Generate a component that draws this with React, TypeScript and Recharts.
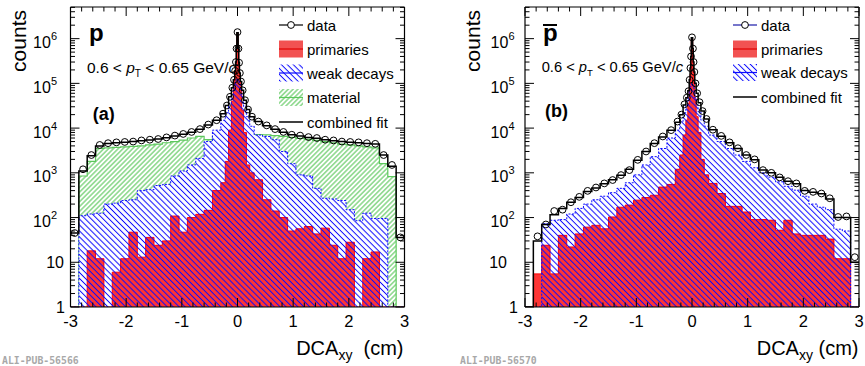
import React from 'react';
import { ComposedChart, Area, Line, XAxis, YAxis } from 'recharts';

const FONT = '"Liberation Sans", Arial, Helvetica, sans-serif';

type Num = number | null;

// DCAxy bin edges (cm) - 0.15 cm bins outside, finer bins around the peak
const BIN_EDGES = [
  -3, -2.85, -2.7, -2.55, -2.4, -2.25, -2.1, -1.95, -1.8, -1.65, -1.5, -1.35, -1.2, -1.05, -0.9, -0.75, -0.6, -0.45, -0.3,
  -0.22, -0.16, -0.11, -0.075, -0.05, -0.035, -0.022, -0.012,
  0.012, 0.022, 0.035, 0.05, 0.075, 0.11, 0.16, 0.22, 0.3,
  0.45, 0.6, 0.75, 0.9, 1.05, 1.2, 1.35, 1.5, 1.65, 1.8, 1.95, 2.1, 2.25, 2.4, 2.55, 2.7, 2.85, 3,
];

// panel (a) protons - counts per bin
const A_DATA: Num[] = [
  45, 1200, 2500, 4200, 4600, 4800, 4900, 5000, 5300,
  5500, 5700, 6200, 6800, 7400, 8200, 9500, 12000, 15000,
  21000, 32000, 50000, 80000, 120000, 190000, 300000, 600000, 1400000,
  600000, 290000, 170000, 110000, 70000, 42000, 26000, 18000, 14000,
  11500, 9500, 8200, 7100, 6800, 6300, 6000, 5500, 5300,
  5000, 4900, 4800, 4600, 4450, 2500, 1500, 36,
];
const A_FIT: Num[] = [
  45, 1100, 2400, 4000, 4500, 4700, 4800, 5000, 5200,
  5400, 5700, 6100, 6700, 7300, 8100, 9400, 11800, 15000,
  21000, 32000, 50000, 80000, 120000, 190000, 300000, 600000, 1350000,
  600000, 290000, 170000, 110000, 70000, 42000, 26000, 18000, 14000,
  11300, 9400, 8100, 7100, 6700, 6200, 5900, 5500, 5200,
  5000, 4800, 4700, 4500, 4400, 2500, 1400, 36,
];
const A_MATERIAL: Num[] = [
  1, 850, 1800, 3500, 3600, 3700, 3800, 3900, 4000,
  4200, 4400, 4700, 5000, 5400, 6000, 6500, 5500, 6500,
  9000, 8000, 9000, 14000, 22000, 30000, 38000, 42000, 45000,
  42000, 38000, 30000, 22000, 14000, 9000, 7500, 7000, 7200,
  7100, 6800, 6500, 6200, 5900, 5600, 5300, 5000, 4700,
  4400, 4200, 4000, 3800, 3600, 1600, 820, 1,
];
const A_WEAK: Num[] = [
  1, 110, 120, 125, 200, 210, 240, 250, 400,
  420, 520, 550, 850, 1100, 1500, 2100, 5000, 9000,
  15000, 22000, 35000, 55000, 80000, 100000, 115000, 120000, 125000,
  120000, 110000, 95000, 75000, 50000, 30000, 18000, 11000, 7000,
  6500, 5500, 3000, 1600, 900, 850, 450, 270, 260,
  240, 150, 85, 125, 95, 95, 1, 1,
];
const A_PRIM: Num[] = [
  1, 1, 18, 12, 1, 6, 12, 47, 13,
  36, 24, 30, 108, 47, 100, 118, 145, 400,
  600, 1800, 9000, 40000, 90000, 160000, 280000, 600000, 1300000,
  500000, 250000, 140000, 70000, 25000, 8000, 1500, 1000, 700,
  250, 140, 100, 50, 56, 63, 43, 58, 24,
  12, 28, 1, 12, 17, 1, 1, 1,
];

// panel (b) antiprotons - counts per bin
const B_DATA: Num[] = [
  null, 38, 70, 140, 150, 220, 290, 395, 470,
  580, 690, 890, 1150, 1950, 3000, 4600, 6500, 9000,
  14000, 20000, 34000, 48000, 67000, 120000, 220000, 400000, 1070000,
  600000, 300000, 180000, 100000, 60000, 38000, 24000, 16000, 9200,
  6700, 4800, 3550, 2500, 2000, 1150, 1000, 790, 650,
  580, 395, 375, 345, 270, 103, 106, 13,
];
const B_FIT: Num[] = [
  1, 30, 70, 115, 160, 220, 280, 380, 460,
  570, 700, 880, 1200, 1900, 3000, 4500, 6300, 9000,
  13500, 20000, 33000, 48000, 68000, 120000, 220000, 400000, 1050000,
  600000, 300000, 180000, 100000, 60000, 37000, 24000, 16000, 9200,
  6600, 4700, 3500, 2500, 1950, 1150, 1000, 800, 650,
  570, 400, 370, 340, 260, 100, 100, 10,
];
const B_WEAK: Num[] = [
  1, 1, 73, 87, 90, 120, 160, 200, 250,
  300, 360, 450, 600, 900, 1500, 2300, 3500, 6000,
  9000, 14000, 22000, 33000, 48000, 68000, 83000, 93000, 98000,
  93000, 83000, 68000, 48000, 33000, 23000, 15000, 11000, 7000,
  5000, 3500, 2500, 1800, 1300, 1000, 800, 630, 500,
  410, 300, 200, 170, 150, 55, 50, 1,
];
const B_PRIM: Num[] = [
  1, 5.5, 24, 5.5, 40, 22, 43, 61, 67,
  56, 103, 170, 190, 245, 280, 315, 480, 550,
  1200, 2500, 7000, 15000, 35000, 80000, 160000, 400000, 1000000,
  450000, 200000, 100000, 45000, 18000, 8000, 2000, 900, 580,
  345, 178, 178, 133, 90, 90, 87, 52, 87,
  43, 40, 40, 40, 33, 12, 12, 1,
];

// axes
const X_TICKS = [
  -3, -2.8, -2.6, -2.4, -2.2, -2, -1.8, -1.6, -1.4, -1.2, -1, -0.8, -0.6, -0.4, -0.2, 0,
  0.2, 0.4, 0.6, 0.8, 1, 1.2, 1.4, 1.6, 1.8, 2, 2.2, 2.4, 2.6, 2.8, 3,
];
const Y_MIN = 1;
const Y_MAX = 5.1e6;
const Y_DECADES = [1, 10, 100, 1e3, 1e4, 1e5, 1e6];
const Y_MANTISSAS = [1, 2, 3, 4, 5, 6, 7, 8, 9];
const Y_TICKS = Y_DECADES.flatMap((d) => Y_MANTISSAS.map((m) => m * d)).filter((v) => v <= Y_MAX);

const C_GREEN = '#5cc85c';
const C_BLUE = '#0a0aff';
const C_RED = '#ff3434';

function stepRows(series: Record<string, Num[]>) {
  const last = BIN_EDGES.length - 2;
  return BIN_EDGES.map((x, i) => {
    const row: Record<string, Num> = { x };
    Object.keys(series).forEach((k) => {
      row[k] = series[k][Math.min(i, last)];
    });
    return row;
  });
}

function markerPoints(values: Num[]) {
  return values
    .map((y, i) => ({ x: (BIN_EDGES[i] + BIN_EDGES[i + 1]) / 2, y }))
    .filter((p) => p.y != null);
}

const TICK_MAJOR = 9;
const TICK_MINOR = 4.5;
const isWhole = (v: number) => Math.abs(v - Math.round(v)) < 1e-6;
const isDecade = (v: number) => isWhole(Math.log10(v));

const BottomTick = (props: any) => {
  const { x, y, payload } = props;
  const major = isWhole(payload.value);
  return (
    <g>
      <line x1={x} x2={x} y1={y} y2={y - (major ? TICK_MAJOR : TICK_MINOR)} stroke="#000" />
      {major && (
        <text x={x} y={y + 20} textAnchor="middle" fontSize={16.5} fontFamily={FONT} fill="#000">
          {String(Math.round(payload.value))}
        </text>
      )}
    </g>
  );
};

const TopTick = (props: any) => {
  const { x, y, payload } = props;
  const major = isWhole(payload.value);
  return <line x1={x} x2={x} y1={y} y2={y + (major ? TICK_MAJOR : TICK_MINOR)} stroke="#000" />;
};

const RightTick = (props: any) => {
  const { x, y, payload } = props;
  const major = isDecade(payload.value);
  return <line x1={x} x2={x - (major ? TICK_MAJOR : TICK_MINOR)} y1={y} y2={y} stroke="#000" />;
};

type LabelOffsets = { sup: number; ten: number; one: number };

const makeLeftTick = (off: LabelOffsets) => (props: any) => {
  const { x, y, payload } = props;
  const dec = isDecade(payload.value);
  const n = Math.round(Math.log10(payload.value));
  let label = null;
  if (dec && n === 0) {
    label = <text x={x - off.one} y={y + 5.5} textAnchor="end" fontSize={16} fontFamily={FONT}>1</text>;
  } else if (dec && n === 1) {
    label = <text x={x - off.ten} y={y + 5.5} textAnchor="end" fontSize={16} fontFamily={FONT}>10</text>;
  } else if (dec) {
    label = (
      <text x={x - off.sup} y={y + 9.5} textAnchor="end" fontSize={16} fontFamily={FONT}>
        10<tspan dy={-8} fontSize={11}>{String(n)}</tspan>
      </text>
    );
  }
  return (
    <g>
      <line x1={x} x2={x + (dec ? TICK_MAJOR : TICK_MINOR)} y1={y} y2={y} stroke="#000" />
      {label}
    </g>
  );
};

const Marker = (props: any) => {
  const { cx, cy, index } = props;
  if (cx == null || cy == null) return <g key={`m${index}`} />;
  return <circle key={`m${index}`} cx={cx} cy={cy} r={3.4} fill="none" stroke="#000" strokeWidth={1} />;
};

interface PanelProps {
  left: number;
  width: number;
  plotLeft: number;
  plotRight: number;
  data: Num[];
  fit: Num[];
  weak: Num[];
  prim: Num[];
  material?: Num[];
  offsets: LabelOffsets;
}

const AXIS_LINE = { stroke: '#000', strokeWidth: 1.2 };
const AX = 1; // thickness reserved for each axis

const Panel: React.FC<PanelProps> = ({ left, width, plotLeft, plotRight, data, fit, weak, prim, material, offsets }) => {
  const series: Record<string, Num[]> = { fit, weak, prim };
  if (material) series.mat = material;
  const rows = stepRows(series);
  const points = markerPoints(data);
  const leftTick = makeLeftTick(offsets);
  return (
    <div style={{ position: 'absolute', left, top: 0, width, height: 366 }}>
      <ComposedChart
        width={width}
        height={366}
        data={rows}
        margin={{ top: 8 - AX, bottom: 59 - AX, left: plotLeft - left - AX, right: left + width - plotRight - AX }}
      >
        <XAxis xAxisId="b" dataKey="x" type="number" domain={[-3, 3]} allowDataOverflow ticks={X_TICKS}
          interval={0} height={AX} tickSize={0} tickMargin={0} tickLine={false} axisLine={AXIS_LINE} tick={BottomTick} />
        <XAxis xAxisId="t" orientation="top" dataKey="x" type="number" domain={[-3, 3]} allowDataOverflow ticks={X_TICKS}
          interval={0} height={AX} tickSize={0} tickMargin={0} tickLine={false} axisLine={AXIS_LINE} tick={TopTick} mirror />
        <YAxis yAxisId="l" type="number" scale="log" domain={[Y_MIN, Y_MAX]} allowDataOverflow ticks={Y_TICKS}
          interval={0} width={AX} tickSize={0} tickMargin={0} tickLine={false} axisLine={AXIS_LINE} tick={leftTick} />
        <YAxis yAxisId="r" orientation="right" type="number" scale="log" domain={[Y_MIN, Y_MAX]} allowDataOverflow
          ticks={Y_TICKS} interval={0} width={AX} tickSize={0} tickMargin={0} tickLine={false} axisLine={AXIS_LINE} tick={RightTick} mirror />
        {material && (
          <Area xAxisId="b" yAxisId="l" type="stepAfter" dataKey="mat" baseValue={Y_MIN}
            fill="url(#hatchGreen)" fillOpacity={1} stroke={C_GREEN} strokeWidth={1.2} isAnimationActive={false} />
        )}
        <Area xAxisId="b" yAxisId="l" type="stepAfter" dataKey="weak" baseValue={Y_MIN}
          fill="#fff" fillOpacity={1} stroke="none" isAnimationActive={false} />
        <Area xAxisId="b" yAxisId="l" type="stepAfter" dataKey="prim" baseValue={Y_MIN}
          fill={C_RED} fillOpacity={1} stroke="#ff0000" strokeWidth={1} isAnimationActive={false} />
        <Area xAxisId="b" yAxisId="l" type="stepAfter" dataKey="weak" baseValue={Y_MIN}
          fill="url(#hatchBlue)" fillOpacity={1} stroke={C_BLUE} strokeWidth={1} strokeDasharray="2 1.5" isAnimationActive={false} />
        <Line xAxisId="b" yAxisId="l" type="stepAfter" dataKey="fit" stroke="#000" strokeWidth={1.5}
          dot={false} activeDot={false} isAnimationActive={false} />
        <Line xAxisId="b" yAxisId="l" data={points} dataKey="y" stroke="none" dot={Marker}
          activeDot={false} isAnimationActive={false} />
      </ComposedChart>
    </div>
  );
};

const LegendRow: React.FC<{ x: number; y: number; kind: string; label: string; lineColor?: string }> = ({ x, y, kind, label, lineColor }) => {
  let symbol = null;
  if (kind === 'data') {
    symbol = (
      <g>
        <line x1={x} x2={x + 24} y1={y} y2={y} stroke={lineColor || '#000'} strokeWidth={1.2} />
        <circle cx={x + 12} cy={y} r={3.4} fill="#fff" stroke="#000" />
      </g>
    );
  } else if (kind === 'fit') {
    symbol = <line x1={x} x2={x + 24} y1={y} y2={y} stroke="#000" strokeWidth={1.5} />;
  } else {
    const fill = kind === 'prim' ? '#f25252' : kind === 'weak' ? 'url(#hatchBlueWhite)' : 'url(#hatchGreen)';
    const col = kind === 'prim' ? '#e00000' : kind === 'weak' ? C_BLUE : C_GREEN;
    symbol = (
      <g>
        <rect x={x} y={y - 8.5} width={24} height={17} fill={fill} />
        <line x1={x} x2={x + 24} y1={y} y2={y} stroke={col} strokeWidth={1.2} />
      </g>
    );
  }
  return (
    <g>
      {symbol}
      <text x={x + 28} y={y + 5.5} fontSize={15} fontFamily={FONT} fill="#000">{label}</text>
    </g>
  );
};

const PtText: React.FC<{ x: number; y: number; size: number }> = ({ x, y, size }) => (
  <text x={x} y={y} fontSize={size} fontFamily={FONT} fill="#000">
    {'0.6 < '}
    <tspan fontStyle="italic">p</tspan>
    <tspan fontSize={size * 0.65} dy={4}>T</tspan>
    <tspan dy={-4}>{' < 0.65 GeV/'}</tspan>
    <tspan fontStyle="italic">c</tspan>
  </text>
);

const AxisTitle: React.FC<{ right: number; gap: string }> = ({ right, gap }) => (
  <text x={right} y={355} textAnchor="end" fontSize={20} fontFamily={FONT} fill="#000">
    DCA<tspan fontSize={14} dy={5}>xy</tspan>
    <tspan dy={-5}>{gap + '(cm)'}</tspan>
  </text>
);

const Overlay: React.FC = () => (
  <svg width={865} height={366} style={{ position: 'absolute', left: 0, top: 0, pointerEvents: 'none' }}>
    <defs>
      <pattern id="hatchGreen" patternUnits="userSpaceOnUse" width={3.4} height={3.4} patternTransform="rotate(45)">
        <rect width={3.4} height={3.4} fill="#fff" />
        <line x1={1.7} y1={0} x2={1.7} y2={3.4} stroke={C_GREEN} strokeWidth={1.1} />
      </pattern>
      <pattern id="hatchBlue" patternUnits="userSpaceOnUse" width={4.2} height={4.2} patternTransform="rotate(-45)">
        <line x1={2.1} y1={0} x2={2.1} y2={4.2} stroke={C_BLUE} strokeWidth={1} />
      </pattern>
      <pattern id="hatchBlueWhite" patternUnits="userSpaceOnUse" width={4.2} height={4.2} patternTransform="rotate(-45)">
        <rect width={4.2} height={4.2} fill="#fff" />
        <line x1={2.1} y1={0} x2={2.1} y2={4.2} stroke={C_BLUE} strokeWidth={1} />
      </pattern>
    </defs>

    {/* panel (a) */}
    <text transform="translate(25.5,10) rotate(-90)" textAnchor="end" fontSize={21} fontFamily={FONT}>counts</text>
    <text x={89} y={41} fontSize={24} fontWeight="bold" fontFamily={FONT}>p</text>
    <PtText x={87} y={73} size={15.5} />
    <text x={92.7} y={120} fontSize={18} fontWeight="bold" fontFamily={FONT}>(a)</text>
    <AxisTitle right={403.5} gap={'\u00a0\u00a0'} />
    <text x={2} y={364} fontSize={9.8} fontWeight="bold" fontFamily='"DejaVu Sans Mono", monospace' fill="#a8a8a8">ALI-PUB-56566</text>
    <LegendRow x={279} y={25} kind="data" label="data" />
    <LegendRow x={279} y={49} kind="prim" label="primaries" />
    <LegendRow x={279} y={73} kind="weak" label="weak decays" />
    <LegendRow x={279} y={97.5} kind="mat" label="material" />
    <LegendRow x={279} y={122} kind="fit" label="combined fit" />

    {/* panel (b) */}
    <text transform="translate(480,10) rotate(-90)" textAnchor="end" fontSize={21} fontFamily={FONT}>counts</text>
    <text x={543} y={41} fontSize={24} fontWeight="bold" fontFamily={FONT}>p</text>
    <line x1={543} x2={557} y1={25} y2={25} stroke="#000" strokeWidth={2} />
    <PtText x={541.7} y={72} size={14.7} />
    <text x={545} y={117} fontSize={18} fontWeight="bold" fontFamily={FONT}>(b)</text>
    <AxisTitle right={858.5} gap={'\u00a0'} />
    <text x={460} y={364} fontSize={9.8} fontWeight="bold" fontFamily='"DejaVu Sans Mono", monospace' fill="#a8a8a8">ALI-PUB-56570</text>
    <LegendRow x={733} y={25} kind="data" label="data" lineColor="#1c1ca8" />
    <LegendRow x={733} y={49} kind="prim" label="primaries" />
    <LegendRow x={733} y={72.5} kind="weak" label="weak decays" />
    <LegendRow x={733} y={97} kind="fit" label="combined fit" />
  </svg>
);

export default function App() {
  return (
    <div style={{ position: 'absolute', left: 0, top: 0, width: 865, height: 366, background: '#fff', fontFamily: FONT }}>
      <Panel left={0} width={432} plotLeft={70.5} plotRight={403.5}
        data={A_DATA} fit={A_FIT} weak={A_WEAK} prim={A_PRIM} material={A_MATERIAL}
        offsets={{ sup: 13.5, ten: 6.5, one: 5.5 }} />
      <Panel left={432} width={433} plotLeft={525} plotRight={858}
        data={B_DATA} fit={B_FIT} weak={B_WEAK} prim={B_PRIM}
        offsets={{ sup: 10.5, ten: 18, one: 7 }} />
      <Overlay />
    </div>
  );
}
